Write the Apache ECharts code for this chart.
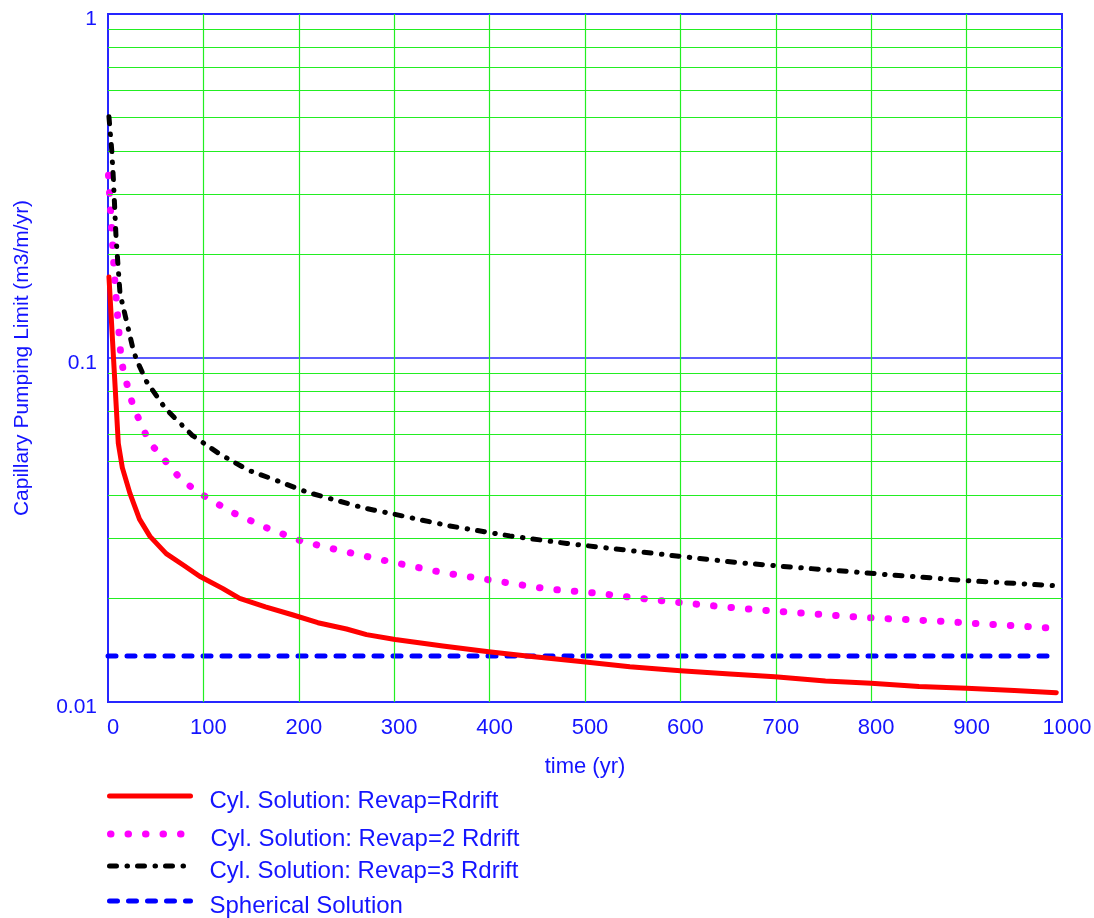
<!DOCTYPE html>
<html>
<head>
<meta charset="utf-8">
<script src="https://cdn.jsdelivr.net/npm/echarts@6/dist/echarts.min.js"></script>
<style>
html,body{margin:0;padding:0;background:#fff;}
#c{width:1094px;height:918px;}
</style>
</head>
<body>
<div id="c"></div>
<script>
// ---- data (time in yr, capillary pumping limit in m3/m/yr) ----
const seriesNames = [
  'Cyl. Solution: Revap=Rdrift',
  'Cyl. Solution: Revap=2 Rdrift',
  'Cyl. Solution: Revap=3 Rdrift',
  'Spherical Solution'
];
const cyl1 = [[1,0.172],[10.8,0.0565],[15,0.048],[23,0.0404],[33,0.034],[44,0.0303],[61,0.027],[80,0.0249],[96,0.0232],[120,0.0214],[138,0.0200],[165,0.0189],[194,0.0179],[220,0.0170],[250,0.0163],[271,0.0157],[301,0.0152],[351,0.01455],[399,0.0140],[439,0.0136],[498,0.0131],[547,0.01267],[600,0.01233],[652,0.01206],[699,0.01185],[752,0.01151],[800,0.01133],[850,0.0111],[900,0.01096],[950,0.0108],[994,0.01064]];
const cyl2 = [[0.5,0.34],[3.9,0.2355],[7.3,0.165],[13.3,0.103],[16,0.0917],[26.5,0.0722],[43,0.0571],[74,0.0452],[92,0.0411],[129,0.0357],[166,0.0321],[202,0.0294],[240,0.0277],[295,0.0256],[350,0.0238],[406,0.0225],[461,0.0213],[514,0.0207],[572,0.0198],[646,0.0189],[701,0.01835],[793,0.0176],[867,0.0172],[990,0.0164]];
const cyl3 = [[1,0.503],[3.9,0.402],[5.6,0.333],[8.4,0.225],[12.6,0.154],[26.5,0.1055],[30,0.0987],[40.5,0.0853],[60,0.0714],[88,0.0597],[117,0.0526],[147,0.0472],[180,0.0437],[209,0.0407],[269,0.0366],[299,0.0352],[358,0.0325],[421,0.0304],[481,0.0289],[540,0.0277],[600,0.0265],[662,0.0254],[722,0.0246],[781,0.0239],[813,0.0235],[904,0.0225],[990,0.0218]];
const spherical = [[0,0.0136],[993,0.0136]];
const xTicks = [0,100,200,300,400,500,600,700,800,900,1000];
const yTicks = [0.01,0.1,1];
const yMinorGrid = [0.02,0.03,0.04,0.05,0.06,0.07,0.08,0.09,0.2,0.3,0.4,0.5,0.6,0.7,0.8,0.9];
const xInnerGrid = [100,200,300,400,500,600,700,800,900];

const FONT = "'Liberation Sans',Arial,sans-serif";
const BLUE = '#1414ff';
const AXIS_BLUE = '#2626ff';
const GREEN = '#22ee22';

const seriesColors = ['#ff0000', '#ff00ff', '#000000', '#0000ff'];
const seriesWidths = [5, 7, 5, 5];
const seriesDash = ['solid', [0.5, 17], [7, 10.5, 0.5, 10], [8, 11]];

const chart = echarts.init(document.getElementById('c'));

function legendAt(i, top) {
  return {
    data: [seriesNames[i]], left: 107, top: top, orient: 'vertical', padding: 0,
    itemWidth: 81, itemHeight: 14, selectedMode: false,
    itemStyle: {opacity: 0},
    lineStyle: {width: seriesWidths[i], type: seriesDash[i], cap: 'round', color: seriesColors[i]},
    formatter: '{t|{name}}',
    textStyle: {color: BLUE, fontFamily: FONT, fontSize: 24,
      rich: {t: {color: BLUE, fontFamily: FONT, fontSize: 24, padding: [10,0,0,14]}}}
  };
}

chart.setOption({
  animation: false,
  backgroundColor: '#fff',
  grid: {left: 108, right: 32, top: 14, bottom: 216, show: true, borderColor: AXIS_BLUE, borderWidth: 2,
         containLabel: false, outerBoundsMode: 'none'},
  legend: [
    legendAt(0, 789),
    legendAt(1, 827),
    legendAt(2, 859),
    legendAt(3, 894)
  ],
  xAxis: {
    type: 'value', min: xTicks[0], max: xTicks[xTicks.length-1], interval: 100,
    name: 'time (yr)', nameLocation: 'middle', nameGap: 54,
    nameTextStyle: {color: BLUE, fontFamily: FONT, fontSize: 22},
    axisLine: {show: true, lineStyle: {color: AXIS_BLUE, width: 2}},
    axisTick: {show: false},
    splitLine: {show: false},
    axisLabel: {color: BLUE, fontFamily: FONT, fontSize: 22, margin: 15, padding: [0,0,0,10],
      formatter: v => String(v)}
  },
  yAxis: {
    type: 'log', logBase: 10, min: yTicks[0], max: yTicks[yTicks.length-1],
    name: 'Capillary Pumping Limit (m3/m/yr)', nameLocation: 'middle', nameGap: 75,
    nameTextStyle: {color: BLUE, fontFamily: FONT, fontSize: 21},
    axisLine: {show: true, lineStyle: {color: AXIS_BLUE, width: 2}},
    axisTick: {show: false},
    splitLine: {show: true, lineStyle: {color: AXIS_BLUE, width: 1.5}},
    axisLabel: {color: BLUE, fontFamily: FONT, fontSize: 21, margin: 11,
      verticalAlign: 'top', lineHeight: 10,
      formatter: v => String(+(+v).toPrecision(3))}
  },
  series: [
    {
      name: '_grid', type: 'line', data: [], silent: true, z: 1,
      markLine: {
        silent: true, symbol: 'none', animation: false,
        label: {show: false},
        lineStyle: {color: GREEN, width: 1.2, type: 'solid'},
        data: yMinorGrid.map(v => ({yAxis: v})).concat(xInnerGrid.map(v => ({xAxis: v})))
      }
    },
    {
      name: seriesNames[0], type: 'line', data: cyl1, symbol: 'none', z: 5,
      lineStyle: {color: seriesColors[0], width: seriesWidths[0], type: seriesDash[0], cap: 'round', join: 'round'},
      itemStyle: {color: seriesColors[0]}
    },
    {
      name: seriesNames[1], type: 'line', data: cyl2, symbol: 'none', z: 4,
      lineStyle: {color: seriesColors[1], width: seriesWidths[1], type: seriesDash[1], cap: 'round'},
      itemStyle: {color: seriesColors[1]}
    },
    {
      name: seriesNames[2], type: 'line', data: cyl3, symbol: 'none', z: 6,
      lineStyle: {color: seriesColors[2], width: seriesWidths[2], type: seriesDash[2], cap: 'round'},
      itemStyle: {color: seriesColors[2]}
    },
    {
      name: seriesNames[3], type: 'line', data: spherical, symbol: 'none', z: 3,
      lineStyle: {color: seriesColors[3], width: seriesWidths[3], type: seriesDash[3], cap: 'round'},
      itemStyle: {color: seriesColors[3]}
    }
  ]
});
</script>
</body>
</html>
